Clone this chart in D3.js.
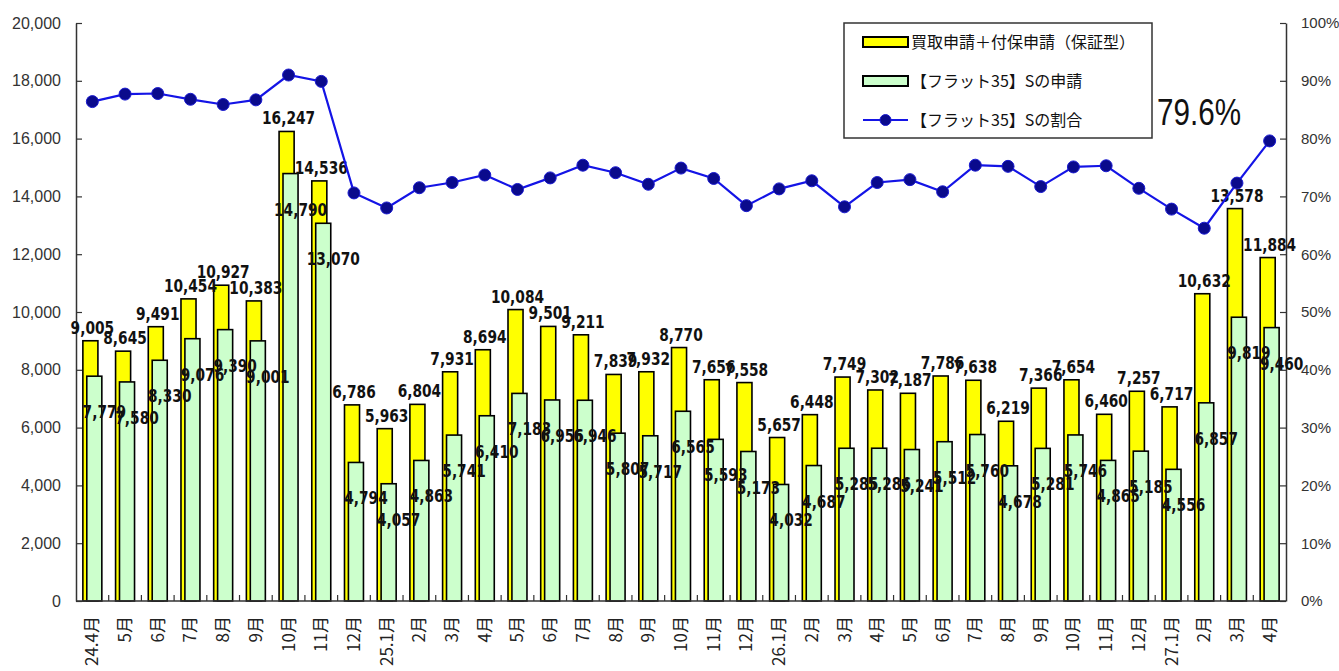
<!DOCTYPE html>
<html>
<head>
<meta charset="utf-8">
<script src="https://cdn.jsdelivr.net/npm/d3@7"></script>
<style>
  body { margin: 0; background: #fff; }
  svg { display: block; }
  .num { font-family: "DejaVu Sans Condensed", "Liberation Sans Narrow", "Liberation Sans", sans-serif; font-weight: bold; font-size: 18px; fill: #111; }
  .ax text { font-family: "Liberation Sans", Arial, sans-serif; font-size: 16px; fill: #333; }
  .axr text { font-size: 15px; }
  .xl { font-family: "Noto Sans CJK JP", sans-serif; font-size: 17px; fill: #222; }
  .lg { font-family: "Noto Sans CJK JP", sans-serif; font-size: 16px; fill: #111; }
</style>
</head>
<body>
<div id="chart"></div>
<script>
// 月
const months = ["24.4月","5月","6月","7月","8月","9月","10月","11月","12月",
  "25.1月","2月","3月","4月","5月","6月","7月","8月","9月","10月","11月","12月",
  "26.1月","2月","3月","4月","5月","6月","7月","8月","9月","10月","11月","12月",
  "27.1月","2月","3月","4月"];

// 買取申請＋付保申請（保証型）
const totals = [9005, 8645, 9491, 10454, 10927, 10383, 16247, 14536, 6786,
  5963, 6804, 7931, 8694, 10084, 9501, 9211, 7839, 7932, 8770, 7656, 7558,
  5657, 6448, 7749, 7302, 7187, 7786, 7638, 6219, 7366, 7654, 6460, 7257,
  6717, 10632, 13578, 11884];

// 【フラット35】Sの申請
const flatS = [7779, 7580, 8330, 9076, 9390, 9001, 14790, 13070, 4794,
  4057, 4863, 5741, 6410, 7183, 6956, 6946, 5807, 5717, 6565, 5593, 5173,
  4032, 4687, 5285, 5286, 5241, 5512, 5760, 4678, 5281, 5746, 4865, 5185,
  4556, 6857, 9819, 9460];

// 【フラット35】Sの割合 (%)
const ratio = [86.4, 87.7, 87.8, 86.8, 85.9, 86.7, 91.0, 89.9, 70.6,
  68.0, 71.5, 72.4, 73.7, 71.2, 73.2, 75.4, 74.1, 72.1, 74.9, 73.1, 68.4,
  71.3, 72.7, 68.2, 72.4, 72.9, 70.8, 75.4, 75.2, 71.7, 75.1, 75.3, 71.4,
  67.8, 64.5, 72.3, 79.6];

const leftTicks = [0, 2000, 4000, 6000, 8000, 10000, 12000, 14000, 16000, 18000, 20000];
const rightTicks = [0, 10, 20, 30, 40, 50, 60, 70, 80, 90, 100];
const legendLabels = ["買取申請＋付保申請（保証型）", "【フラット35】Sの申請", "【フラット35】Sの割合"];
const lastRatioText = "79.6%";

const width = 1339, height = 671;
const mLeft = 76, mRight = 1286, mTop = 23, mBottom = 601;

const svg = d3.select("#chart").append("svg")
  .attr("width", width)
  .attr("height", height);

const x = d3.scaleBand()
  .domain(d3.range(months.length))
  .range([mLeft, mRight])
  .padding(0);

const y = d3.scaleLinear().domain([0, 20000]).range([mBottom, mTop]);
const y2 = d3.scaleLinear().domain([0, 100]).range([mBottom, mTop]);

const step = x.step();
const bw = step * 0.46;
const cx = i => x(i) + step / 2;
const fmt = d3.format(",");

// bars (yellow behind, green in front)
svg.selectAll("rect.tot")
  .data(totals)
  .join("rect")
  .attr("class", "tot")
  .attr("x", (d, i) => cx(i) - step * 0.29)
  .attr("y", d => y(d))
  .attr("width", bw)
  .attr("height", d => mBottom - y(d))
  .attr("fill", "#ffff00")
  .attr("stroke", "#000")
  .attr("stroke-width", 1.6);

svg.selectAll("rect.s")
  .data(flatS)
  .join("rect")
  .attr("class", "s")
  .attr("x", (d, i) => cx(i) - step * 0.17)
  .attr("y", d => y(d))
  .attr("width", bw)
  .attr("height", d => mBottom - y(d))
  .attr("fill", "#ccffcc")
  .attr("stroke", "#000")
  .attr("stroke-width", 1.6);

// axes
const axL = svg.append("g").attr("class", "ax")
  .attr("transform", `translate(${mLeft},0)`)
  .call(d3.axisLeft(y).tickValues(leftTicks).tickFormat(fmt).tickSizeInner(-6).tickSizeOuter(0).tickPadding(15));
const axR = svg.append("g").attr("class", "ax axr")
  .attr("transform", `translate(${mRight},0)`)
  .call(d3.axisRight(y2).tickValues(rightTicks).tickFormat(d => d + "%").tickSizeInner(-6).tickSizeOuter(0).tickPadding(15));
[axL, axR].forEach(g => {
  g.select(".domain").attr("stroke", "#333").attr("stroke-width", 1.5);
  g.selectAll(".tick line").attr("stroke", "#333").attr("stroke-width", 1.2);
});

// bottom axis: line + ticks between categories
svg.append("line")
  .attr("x1", mLeft).attr("x2", mRight)
  .attr("y1", mBottom).attr("y2", mBottom)
  .attr("stroke", "#333").attr("stroke-width", 1.5);
svg.selectAll("line.xt")
  .data(d3.range(1, months.length))
  .join("line")
  .attr("class", "xt")
  .attr("x1", i => x(i)).attr("x2", i => x(i))
  .attr("y1", mBottom).attr("y2", mBottom - 6)
  .attr("stroke", "#333").attr("stroke-width", 1.2);

svg.selectAll("text.xl")
  .data(months)
  .join("text")
  .attr("class", "xl")
  .attr("transform", (d, i) => `translate(${cx(i) + 6},${mBottom + 15}) rotate(-90)`)
  .attr("text-anchor", "end")
  .text(d => d);

// value labels (condensed)
svg.selectAll("text.tl")
  .data(totals)
  .join("text")
  .attr("class", "num tl")
  .attr("transform", (d, i) => `translate(${cx(i)},${y(d) - 7}) scale(0.85,1)`)
  .attr("text-anchor", "middle")
  .text(d => fmt(d));

svg.selectAll("text.sl")
  .data(flatS)
  .join("text")
  .attr("class", "num sl")
  .attr("transform", (d, i) => `translate(${cx(i) + 12},${y(d) + 42}) scale(0.85,1)`)
  .attr("text-anchor", "middle")
  .text(d => fmt(d));

// ratio line
const line = d3.line()
  .x((d, i) => cx(i))
  .y(d => y2(d));

svg.append("path")
  .datum(ratio)
  .attr("d", line)
  .attr("fill", "none")
  .attr("stroke", "#1414e6")
  .attr("stroke-width", 2.2);

svg.selectAll("circle.pt")
  .data(ratio)
  .join("circle")
  .attr("class", "pt")
  .attr("cx", (d, i) => cx(i))
  .attr("cy", d => y2(d))
  .attr("r", 6)
  .attr("fill", "#0a0a8c")
  .attr("stroke", "#1a1ad0")
  .attr("stroke-width", 1);

svg.append("text")
  .attr("transform", "translate(1199,125) scale(0.8,1)")
  .attr("text-anchor", "middle")
  .style("font-family", "'Liberation Sans', Arial, sans-serif")
  .style("font-size", "37px")
  .attr("fill", "#111")
  .text(lastRatioText);

// legend
const lg = svg.append("g").attr("transform", "translate(844,23)");
lg.append("rect")
  .attr("width", 308).attr("height", 115)
  .attr("fill", "#fff").attr("stroke", "#333").attr("stroke-width", 1.5);
const rowsY = [19, 58, 97];
lg.append("rect").attr("x", 19).attr("y", rowsY[0] - 5).attr("width", 45).attr("height", 10)
  .attr("fill", "#ffff00").attr("stroke", "#000").attr("stroke-width", 2);
lg.append("rect").attr("x", 19).attr("y", rowsY[1] - 5).attr("width", 45).attr("height", 10)
  .attr("fill", "#ccffcc").attr("stroke", "#000").attr("stroke-width", 2);
lg.append("line").attr("x1", 19).attr("x2", 64).attr("y1", rowsY[2]).attr("y2", rowsY[2])
  .attr("stroke", "#1414e6").attr("stroke-width", 2.2);
lg.append("circle").attr("cx", 41.5).attr("cy", rowsY[2]).attr("r", 5.5)
  .attr("fill", "#0a0a8c").attr("stroke", "#1a1ad0");
lg.selectAll("text.lg")
  .data(legendLabels)
  .join("text")
  .attr("class", "lg")
  .attr("x", 67)
  .attr("y", (d, i) => rowsY[i])
  .attr("dy", "0.36em")
  .text(d => d);
</script>
</body>
</html>
